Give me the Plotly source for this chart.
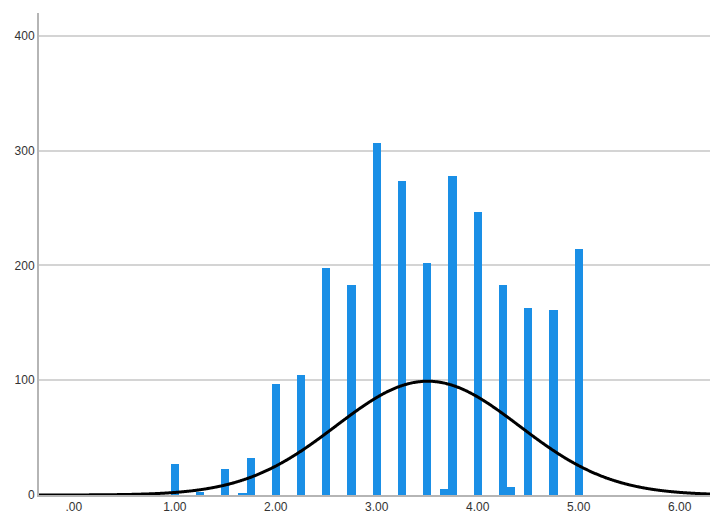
import numpy as np
import plotly.graph_objects as go

# Histogram bins (bin centre) and frequencies
bin_centers = [1.00, 1.25, 1.50, 1.67, 1.75, 2.00, 2.25, 2.50, 2.75, 3.00,
               3.25, 3.50, 3.67, 3.75, 4.00, 4.25, 4.33, 4.50, 4.75, 5.00]
frequencies = [27, 3, 23, 1, 32, 97, 105, 198, 183, 307,
               274, 202, 5, 278, 247, 183, 7, 163, 161, 214]

x_tick_vals = [0, 1, 2, 3, 4, 5, 6]
x_tick_text = [".00", "1.00", "2.00", "3.00", "4.00", "5.00", "6.00"]
y_tick_vals = [0, 100, 200, 300, 400]
y_tick_text = ["0", "100", "200", "300", "400"]

bin_width = 1 / 12
bar_color = "#1a8fe6"
grid_color = "#d4d4d4"
axis_color = "#b5b5b5"
font_family = "Liberation Sans, Arial, sans-serif"

# Normal curve scaled to the histogram (N * bin width * density)
xs = np.array(bin_centers)
ns = np.array(frequencies, dtype=float)
n_total = ns.sum()
mean = (xs * ns).sum() / n_total
sd = np.sqrt(((xs - mean) ** 2 * ns).sum() / (n_total - 1))
x_range = [-0.345, 6.30]
curve_x = np.linspace(x_range[0], x_range[1], 600)
curve_y = n_total * bin_width / (sd * np.sqrt(2 * np.pi)) * np.exp(-0.5 * ((curve_x - mean) / sd) ** 2)

fig = go.Figure()
fig.add_trace(go.Bar(
    x=bin_centers, y=frequencies, width=0.08,
    marker=dict(color=bar_color, line=dict(width=0)),
    showlegend=False,
))
fig.add_trace(go.Scatter(
    x=curve_x, y=curve_y, mode="lines",
    line=dict(color="#000000", width=3, shape="spline"),
    showlegend=False,
))

fig.update_layout(
    width=710, height=516,
    margin=dict(l=39, r=0, t=13, b=21),
    paper_bgcolor="white", plot_bgcolor="white",
    font=dict(family=font_family, size=12, color="#333333"),
    bargap=0,
    xaxis=dict(
        range=x_range, tickvals=x_tick_vals, ticktext=x_tick_text,
        showgrid=False, zeroline=False,
        showline=True, linecolor=axis_color, linewidth=2,
        ticks="", ticklen=0, tickfont=dict(size=12),
    ),
    yaxis=dict(
        range=[0, 420], tickvals=y_tick_vals, ticktext=y_tick_text,
        showgrid=True, gridcolor=grid_color, gridwidth=2,
        zeroline=False,
        showline=True, linecolor=axis_color, linewidth=2,
        ticks="", ticklen=0, tickfont=dict(size=12),
    ),
)

fig.write_html("out.html")
